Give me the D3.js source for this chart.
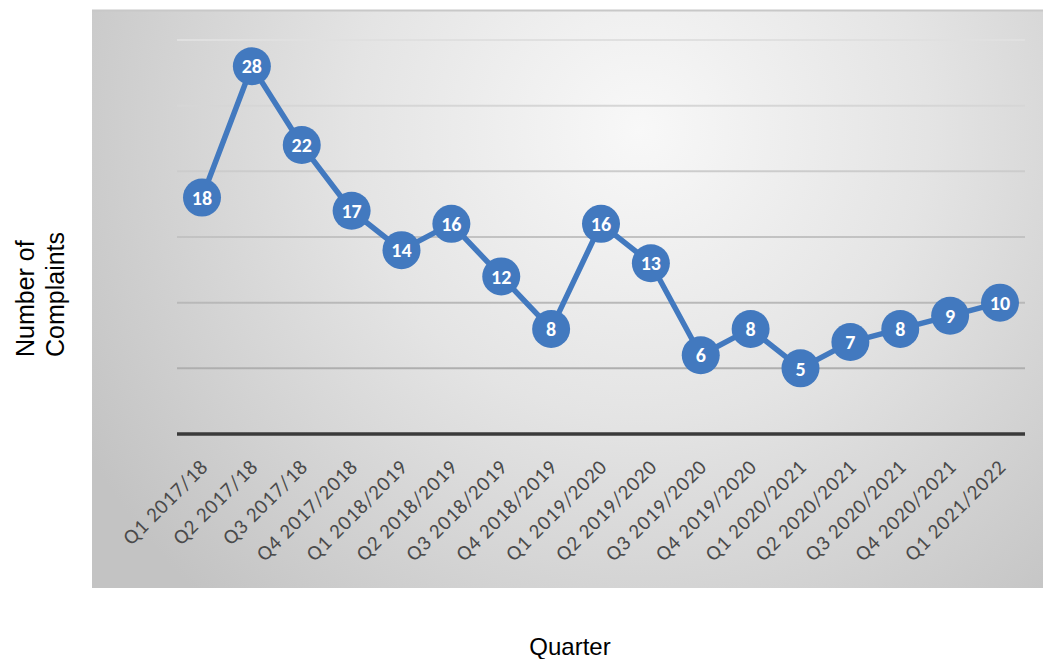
<!DOCTYPE html>
<html>
<head>
<meta charset="utf-8">
<script src="https://cdn.jsdelivr.net/npm/d3@7"></script>
<style>
  html, body { margin: 0; padding: 0; background: #ffffff; }
  svg { display: block; }
</style>
</head>
<body>
<svg id="chart" width="1043" height="659"></svg>
<script>
const categories = [
  "Q1 2017/18", "Q2 2017/18", "Q3 2017/18", "Q4 2017/2018",
  "Q1 2018/2019", "Q2 2018/2019", "Q3 2018/2019", "Q4 2018/2019",
  "Q1 2019/2020", "Q2 2019/2020", "Q3 2019/2020", "Q4 2019/2020",
  "Q1 2020/2021", "Q2 2020/2021", "Q3 2020/2021", "Q4 2020/2021",
  "Q1 2021/2022"
];
const complaints = [18, 28, 22, 17, 14, 16, 12, 8, 16, 13, 6, 8, 5, 7, 8, 9, 10];
const yTicks = [0, 5, 10, 15, 20, 25, 30];

const svg = d3.select("#chart");

const panel = { x: 92, y: 10, w: 951, h: 578 };
const plot = { left: 177, right: 1025, top: 40, bottom: 434 };

const defs = svg.append("defs");
const rg = defs.append("radialGradient")
  .attr("id", "bg")
  .attr("gradientUnits", "userSpaceOnUse")
  .attr("cx", 640).attr("cy", 130).attr("r", 640)
  .attr("fx", 640).attr("fy", 130);
rg.append("stop").attr("offset", "0%").attr("stop-color", "#f8f8f8");
rg.append("stop").attr("offset", "45%").attr("stop-color", "#e4e4e4");
rg.append("stop").attr("offset", "100%").attr("stop-color", "#c3c3c3");

const gg = defs.append("linearGradient")
  .attr("id", "gridgrad")
  .attr("gradientUnits", "userSpaceOnUse")
  .attr("x1", 0).attr("y1", plot.top).attr("x2", 0).attr("y2", plot.bottom);
gg.append("stop").attr("offset", "0%").attr("stop-color", "#e0e0e0");
gg.append("stop").attr("offset", "100%").attr("stop-color", "#a5a5a5");

svg.append("rect")
  .attr("x", panel.x).attr("y", panel.y)
  .attr("width", panel.w).attr("height", panel.h)
  .attr("fill", "url(#bg)");
svg.append("line")
  .attr("x1", panel.x).attr("x2", panel.x + panel.w)
  .attr("y1", panel.y + 0.5).attr("y2", panel.y + 0.5)
  .attr("stroke", "#c8c8c8").attr("stroke-width", 2);

const x = d3.scalePoint()
  .domain(categories)
  .range([plot.left + 25, plot.right - 25]);

const y = d3.scaleLinear()
  .domain([0, 30])
  .range([plot.bottom, plot.top]);

// gridlines
svg.append("g")
  .selectAll("line")
  .data(yTicks.filter(d => d > 0))
  .join("line")
  .attr("x1", plot.left).attr("x2", plot.right)
  .attr("y1", d => y(d)).attr("y2", d => y(d))
  .attr("stroke", "url(#gridgrad)")
  .attr("stroke-width", 2);

// baseline axis
svg.append("line")
  .attr("x1", plot.left).attr("x2", plot.right)
  .attr("y1", y(0)).attr("y2", y(0))
  .attr("stroke", "#3a3a3a").attr("stroke-width", 3.5);

// x axis labels
const xAxis = d3.axisBottom(x).tickSize(0).tickPadding(0);
const gx = svg.append("g")
  .attr("transform", `translate(0,${y(0)})`)
  .call(xAxis);
gx.select(".domain").remove();
gx.selectAll("text")
  .attr("font-family", "Carlito, Lato, 'Open Sans', sans-serif")
  .attr("font-size", 21)
  .attr("letter-spacing", "0.9px")
  .attr("fill", "#4a4a4a")
  .attr("text-anchor", "end")
  .attr("y", 0)
  .attr("dy", null)
  .attr("transform", "translate(7,34) rotate(-45)");

// line
const lineGen = d3.line()
  .x((d, i) => x(categories[i]))
  .y(d => y(d));

svg.append("path")
  .datum(complaints)
  .attr("d", lineGen)
  .attr("fill", "none")
  .attr("stroke", "#4279bf")
  .attr("stroke-width", 5.5)
  .attr("stroke-linejoin", "round");

// markers
const pts = svg.append("g")
  .selectAll("g")
  .data(complaints)
  .join("g")
  .attr("transform", (d, i) => `translate(${x(categories[i])},${y(d)})`);

pts.append("circle")
  .attr("r", 19)
  .attr("fill", "#4279bf");

pts.append("text")
  .text(d => d)
  .attr("text-anchor", "middle")
  .attr("dy", "0.36em")
  .attr("font-family", "Carlito, Lato, 'Open Sans', sans-serif")
  .attr("font-weight", "900")
  .attr("font-size", 20)
  .attr("fill", "#ffffff");

// axis titles
const yt = svg.append("text")
  .attr("transform", "translate(0,357) rotate(-90)")
  .attr("text-anchor", "start")
  .attr("font-family", "Arial, 'Liberation Sans', sans-serif")
  .attr("font-size", 25)
  .attr("fill", "#000000");
yt.append("tspan").attr("x", 0).attr("y", 34).text("Number of");
yt.append("tspan").attr("x", 0).attr("y", 64).text("Complaints");

svg.append("text")
  .attr("x", 570).attr("y", 655)
  .attr("text-anchor", "middle")
  .attr("font-family", "Arial, 'Liberation Sans', sans-serif")
  .attr("font-size", 24)
  .attr("fill", "#000000")
  .text("Quarter");
</script>
</body>
</html>
